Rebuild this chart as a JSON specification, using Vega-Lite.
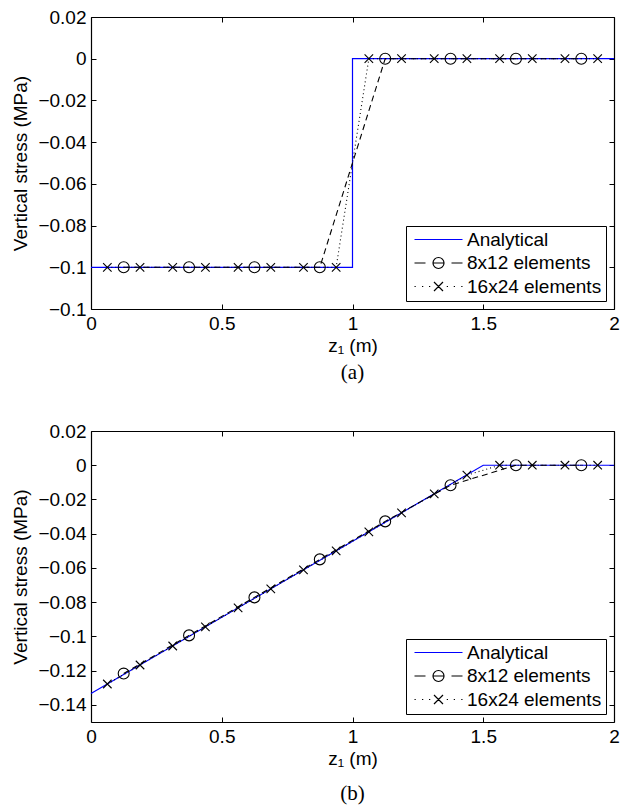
{
  "$schema": "https://vega.github.io/schema/vega-lite/v6.json",
  "padding": {"left": 11, "top": 8, "right": 4, "bottom": 5},
  "background": "white",
  "config": {
    "font": "Liberation Sans",
    "view": {"stroke": null},
    "axis": {
      "labelFont": "Liberation Sans", "labelFontSize": 19, "labelColor": "black", "labelFlush": false,
      "titleFont": "Liberation Sans", "titleFontSize": 19, "titleFontWeight": "normal", "titleColor": "black",
      "domainColor": "black", "domainWidth": 1.2, "tickColor": "black", "tickWidth": 1, "grid": false,
      "tickSize": -5, "labelPadding": 10
    },
    "axisX": {"titlePadding": 3},
    "axisY": {"titlePadding": 7},
    "legend": {
      "orient": "bottom-right", "offset": 8, "title": null,
      "labelFont": "Liberation Sans", "labelFontSize": 19, "labelColor": "black",
      "strokeColor": "black", "fillColor": "white", "padding": 4, "rowPadding": 3.5,
      "symbolSize": 100, "symbolStrokeWidth": 1.2, "symbolOffset": 19, "labelOffset": 19,
      "symbolFillColor": "transparent", "cornerRadius": 0
    }
  },
  "datasets": {
    "a": [
      {"series": "Analytical", "i": 0, "z": 0, "s": -0.1},
      {"series": "Analytical", "i": 1, "z": 1, "s": -0.1},
      {"series": "Analytical", "i": 2, "z": 1, "s": 0},
      {"series": "Analytical", "i": 3, "z": 2, "s": 0},
      {"series": "8x12 elements", "i": 0, "z": 0.125, "s": -0.1},
      {"series": "8x12 elements", "i": 1, "z": 0.375, "s": -0.1},
      {"series": "8x12 elements", "i": 2, "z": 0.625, "s": -0.1},
      {"series": "8x12 elements", "i": 3, "z": 0.875, "s": -0.1},
      {"series": "8x12 elements", "i": 4, "z": 1.125, "s": 0},
      {"series": "8x12 elements", "i": 5, "z": 1.375, "s": 0},
      {"series": "8x12 elements", "i": 6, "z": 1.625, "s": 0},
      {"series": "8x12 elements", "i": 7, "z": 1.875, "s": 0},
      {"series": "16x24 elements", "i": 0, "z": 0.0625, "s": -0.1},
      {"series": "16x24 elements", "i": 1, "z": 0.1875, "s": -0.1},
      {"series": "16x24 elements", "i": 2, "z": 0.3125, "s": -0.1},
      {"series": "16x24 elements", "i": 3, "z": 0.4375, "s": -0.1},
      {"series": "16x24 elements", "i": 4, "z": 0.5625, "s": -0.1},
      {"series": "16x24 elements", "i": 5, "z": 0.6875, "s": -0.1},
      {"series": "16x24 elements", "i": 6, "z": 0.8125, "s": -0.1},
      {"series": "16x24 elements", "i": 7, "z": 0.9375, "s": -0.1},
      {"series": "16x24 elements", "i": 8, "z": 1.0625, "s": 0},
      {"series": "16x24 elements", "i": 9, "z": 1.1875, "s": 0},
      {"series": "16x24 elements", "i": 10, "z": 1.3125, "s": 0},
      {"series": "16x24 elements", "i": 11, "z": 1.4375, "s": 0},
      {"series": "16x24 elements", "i": 12, "z": 1.5625, "s": 0},
      {"series": "16x24 elements", "i": 13, "z": 1.6875, "s": 0},
      {"series": "16x24 elements", "i": 14, "z": 1.8125, "s": 0},
      {"series": "16x24 elements", "i": 15, "z": 1.9375, "s": 0}
    ],
    "b": [
      {"series": "Analytical", "i": 0, "z": 0, "s": -0.1333},
      {"series": "Analytical", "i": 1, "z": 1.5, "s": 0},
      {"series": "Analytical", "i": 2, "z": 2, "s": 0},
      {"series": "8x12 elements", "i": 0, "z": 0.125, "s": -0.1217},
      {"series": "8x12 elements", "i": 1, "z": 0.375, "s": -0.0994},
      {"series": "8x12 elements", "i": 2, "z": 0.625, "s": -0.0772},
      {"series": "8x12 elements", "i": 3, "z": 0.875, "s": -0.055},
      {"series": "8x12 elements", "i": 4, "z": 1.125, "s": -0.0328},
      {"series": "8x12 elements", "i": 5, "z": 1.375, "s": -0.0117},
      {"series": "8x12 elements", "i": 6, "z": 1.625, "s": 0},
      {"series": "8x12 elements", "i": 7, "z": 1.875, "s": 0},
      {"series": "16x24 elements", "i": 0, "z": 0.0625, "s": -0.1278},
      {"series": "16x24 elements", "i": 1, "z": 0.1875, "s": -0.1167},
      {"series": "16x24 elements", "i": 2, "z": 0.3125, "s": -0.1056},
      {"series": "16x24 elements", "i": 3, "z": 0.4375, "s": -0.0944},
      {"series": "16x24 elements", "i": 4, "z": 0.5625, "s": -0.0833},
      {"series": "16x24 elements", "i": 5, "z": 0.6875, "s": -0.0722},
      {"series": "16x24 elements", "i": 6, "z": 0.8125, "s": -0.0611},
      {"series": "16x24 elements", "i": 7, "z": 0.9375, "s": -0.05},
      {"series": "16x24 elements", "i": 8, "z": 1.0625, "s": -0.0389},
      {"series": "16x24 elements", "i": 9, "z": 1.1875, "s": -0.0278},
      {"series": "16x24 elements", "i": 10, "z": 1.3125, "s": -0.0167},
      {"series": "16x24 elements", "i": 11, "z": 1.4375, "s": -0.0058},
      {"series": "16x24 elements", "i": 12, "z": 1.5625, "s": 0},
      {"series": "16x24 elements", "i": 13, "z": 1.6875, "s": 0},
      {"series": "16x24 elements", "i": 14, "z": 1.8125, "s": 0},
      {"series": "16x24 elements", "i": 15, "z": 1.9375, "s": 0}
    ]
  },
  "vconcat": [
    {
      "width": 523, "height": 292,
      "data": {"name": "a"},
      "title": {"text": "(a)", "orient": "bottom", "font": "Liberation Serif", "fontSize": 21, "fontWeight": "normal", "offset": 7, "anchor": "middle", "color": "black"},
      "layer": [
        {
          "transform": [{"filter": "datum.series === 'Analytical'"}],
          "mark": {"type": "line", "strokeWidth": 1.2, "color": "#0000ff"},
          "encoding": {
            "x": {"field": "z", "type": "quantitative", "scale": {"domain": [0, 2], "nice": false}, "axis": {"values": [0, 0.5, 1, 1.5, 2], "format": "~g", "title": "z₁ (m)", "orient": "bottom"}},
            "y": {"field": "s", "type": "quantitative", "scale": {"domain": [-0.12, 0.02], "nice": false, "zero": false}, "axis": {"values": [-0.12, -0.1, -0.08, -0.06, -0.04, -0.02, 0, 0.02], "format": "~g", "title": "Vertical stress (MPa)", "orient": "left"}},
            "order": {"field": "i", "type": "quantitative"}
          }
        },
        {
          "transform": [{"filter": "datum.series === '8x12 elements'"}],
          "mark": {"type": "line", "strokeWidth": 1.1, "color": "black", "strokeDash": [6, 4]},
          "encoding": {
            "x": {"field": "z", "type": "quantitative", "axis": null},
            "y": {"field": "s", "type": "quantitative", "axis": null},
            "order": {"field": "i", "type": "quantitative"}
          }
        },
        {
          "transform": [{"filter": "datum.series === '16x24 elements'"}],
          "mark": {"type": "line", "strokeWidth": 1.1, "color": "black", "strokeDash": [1, 3]},
          "encoding": {
            "x": {"field": "z", "type": "quantitative", "axis": null},
            "y": {"field": "s", "type": "quantitative", "axis": null},
            "order": {"field": "i", "type": "quantitative"}
          }
        },
        {
          "transform": [{"filter": "datum.series === '8x12 elements'"}],
          "mark": {"type": "point", "shape": "circle", "filled": false, "size": 120, "strokeWidth": 1.1, "color": "black", "opacity": 1},
          "encoding": {
            "x": {"field": "z", "type": "quantitative", "axis": null},
            "y": {"field": "s", "type": "quantitative", "axis": null}
          }
        },
        {
          "transform": [{"filter": "datum.series === '16x24 elements'"}],
          "mark": {"type": "point", "shape": "M-1,-1L1,1M-1,1L1,-1", "filled": false, "size": 72, "strokeWidth": 1.1, "color": "black", "opacity": 1},
          "encoding": {
            "x": {"field": "z", "type": "quantitative", "axis": {"orient": "top", "values": [0, 0.5, 1, 1.5, 2], "labels": false, "title": null}},
            "y": {"field": "s", "type": "quantitative", "axis": {"orient": "right", "values": [-0.12, -0.1, -0.08, -0.06, -0.04, -0.02, 0, 0.02], "labels": false, "title": null}}
          }
        },
        {
          "transform": [{"filter": "false"}],
          "mark": {"type": "point", "filled": false, "opacity": 1},
          "encoding": {
            "x": {"field": "z", "type": "quantitative", "axis": null},
            "y": {"field": "s", "type": "quantitative", "axis": null},
            "color": {"field": "series", "type": "nominal",
              "scale": {"domain": ["Analytical", "8x12 elements", "16x24 elements"], "range": ["#0000ff", "#000000", "#000000"]},
              "legend": {"encoding": {"symbols": {"shape": {"condition": [
                {"test": "datum.value === 'Analytical'", "value": "M-4.8,0H4.8"},
                {"test": "datum.value === '8x12 elements'", "value": "M-4.8,0H-2.6M2.6,0H4.8M-1.1,0H1.1M1.1,0C1.1,0.6075,0.6075,1.1,0,1.1C-0.6075,1.1,-1.1,0.6075,-1.1,0C-1.1,-0.6075,-0.6075,-1.1,0,-1.1C0.6075,-1.1,1.1,-0.6075,1.1,0Z"}
              ], "value": "M-4.8,0h0.25M-3.3,0h0.25M-1.9,0h0.25M1.65,0h0.25M3.05,0h0.25M4.55,0h0.25M-0.9,-0.9L0.9,0.9M-0.9,0.9L0.9,-0.9"}}}}
            }
          }
        }
      ],
      "resolve": {"axis": {"x": "independent", "y": "independent"}}
    },
    {
      "width": 523, "height": 291,
      "data": {"name": "b"},
      "title": {"text": "(b)", "orient": "bottom", "font": "Liberation Serif", "fontSize": 21, "fontWeight": "normal", "offset": 15, "anchor": "middle", "color": "black"},
      "layer": [
        {
          "transform": [{"filter": "datum.series === 'Analytical'"}],
          "mark": {"type": "line", "strokeWidth": 1.2, "color": "#0000ff"},
          "encoding": {
            "x": {"field": "z", "type": "quantitative", "scale": {"domain": [0, 2], "nice": false}, "axis": {"values": [0, 0.5, 1, 1.5, 2], "format": "~g", "title": "z₁ (m)", "orient": "bottom"}},
            "y": {"field": "s", "type": "quantitative", "scale": {"domain": [-0.15, 0.02], "nice": false, "zero": false}, "axis": {"values": [-0.14, -0.12, -0.1, -0.08, -0.06, -0.04, -0.02, 0, 0.02], "format": "~g", "title": "Vertical stress (MPa)", "orient": "left"}},
            "order": {"field": "i", "type": "quantitative"}
          }
        },
        {
          "transform": [{"filter": "datum.series === '8x12 elements'"}],
          "mark": {"type": "line", "strokeWidth": 1.1, "color": "black", "strokeDash": [6, 4]},
          "encoding": {
            "x": {"field": "z", "type": "quantitative", "axis": null},
            "y": {"field": "s", "type": "quantitative", "axis": null},
            "order": {"field": "i", "type": "quantitative"}
          }
        },
        {
          "transform": [{"filter": "datum.series === '16x24 elements'"}],
          "mark": {"type": "line", "strokeWidth": 1.1, "color": "black", "strokeDash": [1, 3]},
          "encoding": {
            "x": {"field": "z", "type": "quantitative", "axis": null},
            "y": {"field": "s", "type": "quantitative", "axis": null},
            "order": {"field": "i", "type": "quantitative"}
          }
        },
        {
          "transform": [{"filter": "datum.series === '8x12 elements'"}],
          "mark": {"type": "point", "shape": "circle", "filled": false, "size": 120, "strokeWidth": 1.1, "color": "black", "opacity": 1},
          "encoding": {
            "x": {"field": "z", "type": "quantitative", "axis": null},
            "y": {"field": "s", "type": "quantitative", "axis": null}
          }
        },
        {
          "transform": [{"filter": "datum.series === '16x24 elements'"}],
          "mark": {"type": "point", "shape": "M-1,-1L1,1M-1,1L1,-1", "filled": false, "size": 72, "strokeWidth": 1.1, "color": "black", "opacity": 1},
          "encoding": {
            "x": {"field": "z", "type": "quantitative", "axis": {"orient": "top", "values": [0, 0.5, 1, 1.5, 2], "labels": false, "title": null}},
            "y": {"field": "s", "type": "quantitative", "axis": {"orient": "right", "values": [-0.14, -0.12, -0.1, -0.08, -0.06, -0.04, -0.02, 0, 0.02], "labels": false, "title": null}}
          }
        },
        {
          "transform": [{"filter": "false"}],
          "mark": {"type": "point", "filled": false, "opacity": 1},
          "encoding": {
            "x": {"field": "z", "type": "quantitative", "axis": null},
            "y": {"field": "s", "type": "quantitative", "axis": null},
            "color": {"field": "series", "type": "nominal",
              "scale": {"domain": ["Analytical", "8x12 elements", "16x24 elements"], "range": ["#0000ff", "#000000", "#000000"]},
              "legend": {"encoding": {"symbols": {"shape": {"condition": [
                {"test": "datum.value === 'Analytical'", "value": "M-4.8,0H4.8"},
                {"test": "datum.value === '8x12 elements'", "value": "M-4.8,0H-2.6M2.6,0H4.8M-1.1,0H1.1M1.1,0C1.1,0.6075,0.6075,1.1,0,1.1C-0.6075,1.1,-1.1,0.6075,-1.1,0C-1.1,-0.6075,-0.6075,-1.1,0,-1.1C0.6075,-1.1,1.1,-0.6075,1.1,0Z"}
              ], "value": "M-4.8,0h0.25M-3.3,0h0.25M-1.9,0h0.25M1.65,0h0.25M3.05,0h0.25M4.55,0h0.25M-0.9,-0.9L0.9,0.9M-0.9,0.9L0.9,-0.9"}}}}
            }
          }
        }
      ],
      "resolve": {"axis": {"x": "independent", "y": "independent"}}
    }
  ],
  "spacing": 39,
  "resolve": {"scale": {"color": "independent"}}
}
